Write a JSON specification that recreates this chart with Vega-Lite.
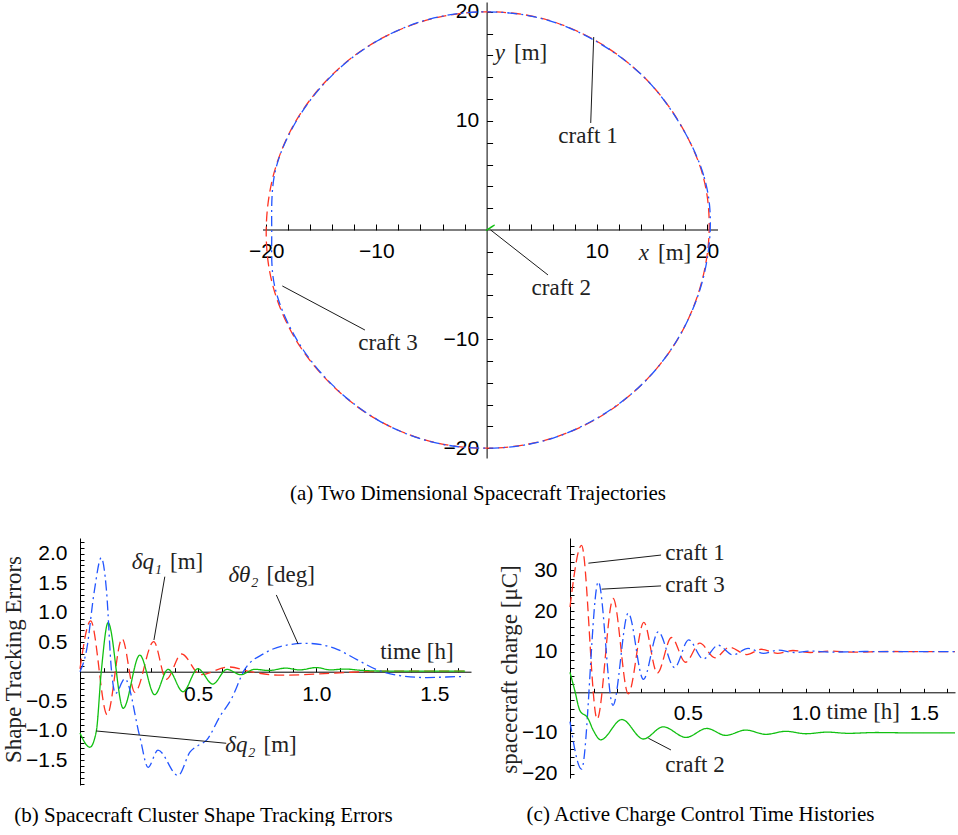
{
  "$schema": "https://vega.github.io/schema/vega-lite/v6.json",
  "background": "white",
  "padding": {"left": 1, "top": 0, "right": 0, "bottom": 0},
  "bounds": "flush",
  "spacing": 80,
  "config": {
    "view": {"stroke": null},
    "axis": {"grid": false, "domainColor": "#000", "domainWidth": 1, "tickColor": "#000", "tickWidth": 1, "labelColor": "#000", "labelFont": "Liberation Sans", "labelFontSize": 21, "labelFlush": false, "labelOverlap": false, "titleFont": "Liberation Serif", "titleFontSize": 23, "titleFontWeight": "normal", "titleColor": "#222"},
    "title": {"font": "Liberation Serif", "fontSize": 21, "fontWeight": "normal", "color": "#000"}
  },
  "vconcat": [
    {
      "width": 638,
      "height": 456,
      "title": {"text": "(a) Two Dimensional Spacecraft Trajectories", "orient": "bottom", "frame": "group", "anchor": "middle", "dx": 79, "offset": 25},
      "encoding": {
        "x": {"field": "x", "type": "quantitative", "scale": {"domain": [-36.9, 21], "nice": false, "zero": false},
          "axis": {"orient": "bottom", "offset": -228, "domain": false, "values": [-20,-18,-16,-14,-12,-10,-8,-6,-4,-2,2,4,6,8,10,12,14,16,18,20], "labelExpr": "datum.value % 10 === 0 ? replace(format(datum.value, 'd'), '-', '−') : ''", "labelFont": "Liberation Sans", "labelFontSize": 21, "tickSize": -6, "labelPadding": 16, "title": null}},
        "y": {"field": "y", "type": "quantitative", "scale": {"domain": [-20.9, 20.9], "nice": false, "zero": false},
          "axis": {"orient": "left", "offset": -406.6, "values": [-20,-18,-16,-14,-12,-10,-8,-6,-4,-2,2,4,6,8,10,12,14,16,18,20], "labelExpr": "datum.value % 10 === 0 ? replace(format(datum.value, 'd'), '-', '−') : ''", "labelFont": "Liberation Sans", "labelFontSize": 21, "tickSize": -6, "labelPadding": 14, "title": null}}
      },
      "layer": [
        {
          "data": {"values": [{"x": -20.29, "x2": 21, "y": 0}]},
          "mark": {"type": "rule", "color": "#000", "strokeWidth": 1},
          "encoding": {"x2": {"field": "x2"}}
        },
        {
          "data": {"values": [
            {"s": "c1", "i": 0, "x": 20.2, "y": 0},
            {"s": "c1", "i": 1, "x": 19.6, "y": 5.1},
            {"s": "c1", "i": 2, "x": 17.4, "y": 10.0},
            {"s": "c1", "i": 3, "x": 14.2, "y": 14.1},
            {"s": "c1", "i": 4, "x": 10.0, "y": 17.3},
            {"s": "c1", "i": 5, "x": 5.2, "y": 19.35},
            {"s": "c1", "i": 6, "x": 0, "y": 20.0},
            {"s": "c1", "i": 7, "x": -5.2, "y": 19.3},
            {"s": "c1", "i": 8, "x": -10.0, "y": 17.3},
            {"s": "c1", "i": 9, "x": -14.1, "y": 14.15},
            {"s": "c1", "i": 10, "x": -17.3, "y": 10.0},
            {"s": "c1", "i": 11, "x": -19.3, "y": 5.2},
            {"s": "c1", "i": 12, "x": -20.0, "y": 0},
            {"s": "c1", "i": 13, "x": -19.4, "y": -5.1},
            {"s": "c1", "i": 14, "x": -17.35, "y": -10.0},
            {"s": "c1", "i": 15, "x": -14.1, "y": -14.15},
            {"s": "c1", "i": 16, "x": -10.0, "y": -17.35},
            {"s": "c1", "i": 17, "x": -5.2, "y": -19.35},
            {"s": "c1", "i": 18, "x": 0, "y": -20.0},
            {"s": "c1", "i": 19, "x": 5.2, "y": -19.3},
            {"s": "c1", "i": 20, "x": 10.0, "y": -17.3},
            {"s": "c1", "i": 21, "x": 14.15, "y": -14.1},
            {"s": "c1", "i": 22, "x": 17.35, "y": -10.0},
            {"s": "c1", "i": 23, "x": 19.4, "y": -5.2},
            {"s": "c3", "i": 0, "x": 20.3, "y": 0.3},
            {"s": "c3", "i": 1, "x": 19.7, "y": 5.0},
            {"s": "c3", "i": 2, "x": 17.5, "y": 9.8},
            {"s": "c3", "i": 3, "x": 14.3, "y": 14.0},
            {"s": "c3", "i": 4, "x": 10.1, "y": 17.2},
            {"s": "c3", "i": 5, "x": 5.3, "y": 19.3},
            {"s": "c3", "i": 6, "x": 0.1, "y": 20.0},
            {"s": "c3", "i": 7, "x": -5.1, "y": 19.35},
            {"s": "c3", "i": 8, "x": -9.9, "y": 17.35},
            {"s": "c3", "i": 9, "x": -14.0, "y": 14.2},
            {"s": "c3", "i": 10, "x": -17.2, "y": 10.1},
            {"s": "c3", "i": 11, "x": -19.2, "y": 5.3},
            {"s": "c3", "i": 12, "x": -19.5, "y": -0.3},
            {"s": "c3", "i": 13, "x": -19.2, "y": -5.3},
            {"s": "c3", "i": 14, "x": -17.2, "y": -10.1},
            {"s": "c3", "i": 15, "x": -14.0, "y": -14.2},
            {"s": "c3", "i": 16, "x": -9.9, "y": -17.4},
            {"s": "c3", "i": 17, "x": -5.1, "y": -19.4},
            {"s": "c3", "i": 18, "x": 0.1, "y": -20.0},
            {"s": "c3", "i": 19, "x": 5.3, "y": -19.3},
            {"s": "c3", "i": 20, "x": 10.1, "y": -17.2},
            {"s": "c3", "i": 21, "x": 14.25, "y": -14.0},
            {"s": "c3", "i": 22, "x": 17.4, "y": -9.9},
            {"s": "c3", "i": 23, "x": 19.5, "y": -5.0},
            {"s": "c2", "i": 0, "x": 0, "y": 0},
            {"s": "c2", "i": 1, "x": 0.7, "y": 0.45},
            {"s": "c2", "i": 2, "x": 0.2, "y": 0.1}
          ]},
          "mark": {"type": "line", "interpolate": "cardinal-closed", "strokeWidth": 1.3},
          "encoding": {
            "color": {"field": "s", "type": "nominal", "scale": {"domain": ["c1", "c2", "c3"], "range": ["#ff3322", "#11c011", "#2255ff"]}, "legend": null},
            "strokeDash": {"field": "s", "type": "nominal", "scale": {"domain": ["c1", "c2", "c3"], "range": [[10, 5], [1, 0], [10, 4, 2, 4]]}, "legend": null},
            "order": {"field": "i", "type": "quantitative"}
          }
        },
        {
          "data": {"values": [
            {"x": 9.45, "y": 9.81, "x2": 9.72, "y2": 17.69},
            {"x": 0.37, "y": 0, "x2": 5.57, "y2": -4.12},
            {"x": -18.54, "y": -5.13, "x2": -11.04, "y2": -9.17}
          ]},
          "mark": {"type": "rule", "color": "#000", "strokeWidth": 0.9},
          "encoding": {"x2": {"field": "x2"}, "y2": {"field": "y2"}}
        },
        {
          "data": {"values": [
            {"x": 9.2, "y": 8.62, "t": "craft 1"},
            {"x": 6.78, "y": -5.34, "t": "craft 2"},
            {"x": -8.95, "y": -10.39, "t": "craft 3"}
          ]},
          "mark": {"type": "text", "align": "center", "baseline": "middle", "font": "Liberation Serif", "fontSize": 23, "color": "#222"},
          "encoding": {"text": {"field": "t"}}
        },
        {
          "data": {"values": [
            {"x": 15.1, "y": -2.11, "t": "x"},
            {"x": 2.03, "y": 16.22, "t": "y"}
          ]},
          "mark": {"type": "text", "align": "right", "baseline": "middle", "font": "Liberation Serif", "fontSize": 23, "color": "#222", "fontStyle": "italic", "dx": -4},
          "encoding": {"text": {"field": "t"}}
        },
        {
          "data": {"values": [
            {"x": 15.1, "y": -2.11, "t": "[m]"},
            {"x": 2.03, "y": 16.22, "t": "[m]"}
          ]},
          "mark": {"type": "text", "align": "left", "baseline": "middle", "font": "Liberation Serif", "fontSize": 23, "color": "#222", "dx": 5},
          "encoding": {"text": {"field": "t"}}
        }
      ]
    },
    {
      "hconcat": [
        {
          "width": 391,
          "height": 247,
          "title": {"text": "(b) Spacecraft Cluster Shape Tracking Errors", "orient": "bottom", "frame": "group", "anchor": "middle", "dx": -72, "offset": 11},
          "encoding": {
            "x": {"field": "x", "type": "quantitative", "scale": {"domain": [0, 1.655], "nice": false, "zero": false},
              "axis": {"orient": "bottom", "offset": -113.3, "values": [0.1,0.2,0.3,0.4,0.5,0.6,0.7,0.8,0.9,1.0,1.1,1.2,1.3,1.4,1.5,1.6], "labelExpr": "abs(datum.value*2 - round(datum.value*2)) < 0.001 ? format(datum.value, '.1f') : ''", "labelFont": "Liberation Sans", "labelFontSize": 21, "tickSize": -4, "labelPadding": 16, "title": null}},
            "y": {"field": "y", "type": "quantitative", "scale": {"domain": [-1.92, 2.265], "nice": false, "zero": false},
              "axis": {"orient": "left", "values": [-1.9,-1.8,-1.7,-1.6,-1.5,-1.4,-1.3,-1.2,-1.1,-1.0,-0.9,-0.8,-0.7,-0.6,-0.5,-0.4,-0.3,-0.2,-0.1,0.1,0.2,0.3,0.4,0.5,0.6,0.7,0.8,0.9,1.0,1.1,1.2,1.3,1.4,1.5,1.6,1.7,1.8,1.9,2.0,2.1,2.2], "labelExpr": "abs(datum.value*2 - round(datum.value*2)) < 0.001 ? replace(format(datum.value, '.1f'), '-', '−') : ''", "labelFont": "Liberation Sans", "labelFontSize": 21, "tickSize": -4, "labelPadding": 17, "title": "Shape Tracking Errors", "titleX": -55, "titleY": 121}}
          },
          "layer": [
            {
              "data": {"values": [
                {"s": "c1", "x": 0, "y": 0.05}, {"s": "c1", "x": 0.045, "y": 0.86}, {"s": "c1", "x": 0.115, "y": -0.73}, {"s": "c1", "x": 0.178, "y": 0.56}, {"s": "c1", "x": 0.232, "y": -0.35}, {"s": "c1", "x": 0.312, "y": 0.51}, {"s": "c1", "x": 0.365, "y": -0.13}, {"s": "c1", "x": 0.43, "y": 0.3}, {"s": "c1", "x": 0.51, "y": -0.05}, {"s": "c1", "x": 0.63, "y": 0.08}, {"s": "c1", "x": 0.72, "y": 0.0}, {"s": "c1", "x": 0.85, "y": -0.06}, {"s": "c1", "x": 1.0, "y": -0.04}, {"s": "c1", "x": 1.15, "y": -0.01}, {"s": "c1", "x": 1.3, "y": 0.01}, {"s": "c1", "x": 1.63, "y": 0.01},
                {"s": "c2", "x": 0, "y": -1.04}, {"s": "c2", "x": 0.042, "y": -1.28}, {"s": "c2", "x": 0.069, "y": -1.01}, {"s": "c2", "x": 0.09, "y": 0.0}, {"s": "c2", "x": 0.119, "y": 0.83}, {"s": "c2", "x": 0.183, "y": -0.62}, {"s": "c2", "x": 0.253, "y": 0.28}, {"s": "c2", "x": 0.316, "y": -0.39}, {"s": "c2", "x": 0.373, "y": 0.04}, {"s": "c2", "x": 0.436, "y": -0.34}, {"s": "c2", "x": 0.499, "y": 0.05}, {"s": "c2", "x": 0.562, "y": -0.21}, {"s": "c2", "x": 0.622, "y": 0.04}, {"s": "c2", "x": 0.68, "y": -0.05}, {"s": "c2", "x": 0.74, "y": 0.04}, {"s": "c2", "x": 0.8, "y": 0.02}, {"s": "c2", "x": 0.87, "y": 0.06}, {"s": "c2", "x": 0.93, "y": 0.03}, {"s": "c2", "x": 1.0, "y": 0.07}, {"s": "c2", "x": 1.06, "y": 0.03}, {"s": "c2", "x": 1.12, "y": 0.045}, {"s": "c2", "x": 1.2, "y": 0.02}, {"s": "c2", "x": 1.3, "y": 0.01}, {"s": "c2", "x": 1.63, "y": 0.01},
                {"s": "c3", "x": 0, "y": 0}, {"s": "c3", "x": 0.028, "y": 0.37}, {"s": "c3", "x": 0.06, "y": 1.35}, {"s": "c3", "x": 0.09, "y": 1.93}, {"s": "c3", "x": 0.112, "y": 1.38}, {"s": "c3", "x": 0.133, "y": 0.03}, {"s": "c3", "x": 0.15, "y": -0.37}, {"s": "c3", "x": 0.19, "y": -0.12}, {"s": "c3", "x": 0.253, "y": -1.1}, {"s": "c3", "x": 0.288, "y": -1.62}, {"s": "c3", "x": 0.33, "y": -1.33}, {"s": "c3", "x": 0.415, "y": -1.76}, {"s": "c3", "x": 0.466, "y": -1.36}, {"s": "c3", "x": 0.5, "y": -1.25}, {"s": "c3", "x": 0.536, "y": -1.16}, {"s": "c3", "x": 0.592, "y": -0.76}, {"s": "c3", "x": 0.641, "y": -0.46}, {"s": "c3", "x": 0.696, "y": 0.03}, {"s": "c3", "x": 0.78, "y": 0.31}, {"s": "c3", "x": 0.89, "y": 0.46}, {"s": "c3", "x": 0.96, "y": 0.48}, {"s": "c3", "x": 1.076, "y": 0.4}, {"s": "c3", "x": 1.174, "y": 0.2}, {"s": "c3", "x": 1.259, "y": 0.03}, {"s": "c3", "x": 1.343, "y": -0.06}, {"s": "c3", "x": 1.47, "y": -0.1}, {"s": "c3", "x": 1.55, "y": -0.09}, {"s": "c3", "x": 1.63, "y": -0.08}
              ]},
              "mark": {"type": "line", "interpolate": "monotone", "strokeWidth": 1.3},
              "encoding": {
                "color": {"field": "s", "type": "nominal", "scale": {"domain": ["c1", "c2", "c3"], "range": ["#ff3322", "#11c011", "#2255ff"]}, "legend": null},
                "strokeDash": {"field": "s", "type": "nominal", "scale": {"domain": ["c1", "c2", "c3"], "range": [[10, 5], [1, 0], [10, 4, 2, 4]]}, "legend": null}
              }
            },
            {
              "data": {"values": [
                {"x": 0.359, "y": 1.61, "x2": 0.313, "y2": 0.537},
                {"x": 0.831, "y": 1.3, "x2": 0.923, "y2": 0.47},
                {"x": 0.069, "y": -1.005, "x2": 0.619, "y2": -1.213}
              ]},
              "mark": {"type": "rule", "color": "#000", "strokeWidth": 0.9},
              "encoding": {"x2": {"field": "x2"}, "y2": {"field": "y2"}}
            },
            {
              "data": {"values": [
                {"x": 1.426, "y": 0.339, "t": "time [h]"}
              ]},
              "mark": {"type": "text", "align": "center", "baseline": "middle", "font": "Liberation Serif", "fontSize": 23, "color": "#222"},
              "encoding": {"text": {"field": "t"}}
            },
            {
              "data": {"values": [
                {"x": 0.364, "y": 1.864, "t": "δq₁"},
                {"x": 0.772, "y": 1.64, "t": "δθ₂"},
                {"x": 0.76, "y": -1.24, "t": "δq₂"}
              ]},
              "mark": {"type": "text", "align": "right", "baseline": "middle", "font": "Liberation Serif", "fontSize": 23, "color": "#222", "fontStyle": "italic", "dx": -4},
              "encoding": {"text": {"field": "t"}}
            },
            {
              "data": {"values": [
                {"x": 0.364, "y": 1.864, "t": "[m]"},
                {"x": 0.772, "y": 1.64, "t": "[deg]"},
                {"x": 0.76, "y": -1.24, "t": "[m]"}
              ]},
              "mark": {"type": "text", "align": "left", "baseline": "middle", "font": "Liberation Serif", "fontSize": 23, "color": "#222", "dx": 4},
              "encoding": {"text": {"field": "t"}}
            }
          ]
        },
        {
          "width": 385,
          "height": 240,
          "title": {"text": "(c) Active Charge Control Time Histories", "orient": "bottom", "frame": "group", "anchor": "middle", "dx": -62, "offset": 20},
          "encoding": {
            "x": {"field": "x", "type": "quantitative", "scale": {"domain": [0, 1.632], "nice": false, "zero": false},
              "axis": {"orient": "bottom", "offset": -85.7, "values": [0.1,0.2,0.3,0.4,0.5,0.6,0.7,0.8,0.9,1.0,1.1,1.2,1.3,1.4,1.5,1.6], "labelExpr": "abs(datum.value*2 - round(datum.value*2)) < 0.001 ? format(datum.value, '.1f') : ''", "labelFont": "Liberation Sans", "labelFontSize": 21, "tickSize": -4, "labelPadding": 14, "title": null}},
            "y": {"field": "y", "type": "quantitative", "scale": {"domain": [-21.1, 38], "nice": false, "zero": false},
              "axis": {"orient": "left", "values": [-20,-18,-16,-14,-12,-10,-8,-6,-4,-2,2,4,6,8,10,12,14,16,18,20,22,24,26,28,30,32,34,36], "labelExpr": "datum.value % 10 === 0 ? replace(format(datum.value, 'd'), '-', '−') : ''", "labelFont": "Liberation Sans", "labelFontSize": 21, "tickSize": -4, "labelPadding": 17, "title": "spacecraft charge [μC]", "titleX": -48.4, "titleY": 131}}
          },
          "layer": [
            {
              "data": {"values": [
                {"s": "c1", "x": 0, "y": 21}, {"s": "c1", "x": 0.049, "y": 36.2}, {"s": "c1", "x": 0.115, "y": -6.6}, {"s": "c1", "x": 0.183, "y": 23.1}, {"s": "c1", "x": 0.247, "y": -0.4}, {"s": "c1", "x": 0.313, "y": 17.2}, {"s": "c1", "x": 0.37, "y": 4.7}, {"s": "c1", "x": 0.43, "y": 13.5}, {"s": "c1", "x": 0.49, "y": 7.4}, {"s": "c1", "x": 0.55, "y": 12.1}, {"s": "c1", "x": 0.615, "y": 8.5}, {"s": "c1", "x": 0.675, "y": 11.1}, {"s": "c1", "x": 0.75, "y": 9.3}, {"s": "c1", "x": 0.81, "y": 10.6}, {"s": "c1", "x": 0.88, "y": 9.6}, {"s": "c1", "x": 0.945, "y": 10.3}, {"s": "c1", "x": 1.02, "y": 9.8}, {"s": "c1", "x": 1.1, "y": 10.15}, {"s": "c1", "x": 1.2, "y": 9.9}, {"s": "c1", "x": 1.35, "y": 10.05}, {"s": "c1", "x": 1.5, "y": 10}, {"s": "c1", "x": 1.632, "y": 10},
                {"s": "c3", "x": 0, "y": -7.2}, {"s": "c3", "x": 0.049, "y": -18.9}, {"s": "c3", "x": 0.12, "y": 27.2}, {"s": "c3", "x": 0.182, "y": -3.2}, {"s": "c3", "x": 0.247, "y": 19.5}, {"s": "c3", "x": 0.311, "y": 3.2}, {"s": "c3", "x": 0.374, "y": 14.9}, {"s": "c3", "x": 0.443, "y": 6.1}, {"s": "c3", "x": 0.503, "y": 12.9}, {"s": "c3", "x": 0.565, "y": 8.2}, {"s": "c3", "x": 0.628, "y": 11.6}, {"s": "c3", "x": 0.69, "y": 9.2}, {"s": "c3", "x": 0.755, "y": 10.8}, {"s": "c3", "x": 0.82, "y": 9.6}, {"s": "c3", "x": 0.885, "y": 10.4}, {"s": "c3", "x": 0.95, "y": 9.8}, {"s": "c3", "x": 1.02, "y": 10.15}, {"s": "c3", "x": 1.1, "y": 9.9}, {"s": "c3", "x": 1.25, "y": 10.05}, {"s": "c3", "x": 1.4, "y": 10}, {"s": "c3", "x": 1.632, "y": 10},
                {"s": "c2", "x": 0, "y": 4.9}, {"s": "c2", "x": 0.02, "y": 0.5}, {"s": "c2", "x": 0.042, "y": -4.5}, {"s": "c2", "x": 0.075, "y": -6.3}, {"s": "c2", "x": 0.1, "y": -9.5}, {"s": "c2", "x": 0.13, "y": -11.7}, {"s": "c2", "x": 0.22, "y": -6.7}, {"s": "c2", "x": 0.311, "y": -11.5}, {"s": "c2", "x": 0.395, "y": -8.5}, {"s": "c2", "x": 0.492, "y": -11.1}, {"s": "c2", "x": 0.58, "y": -8.9}, {"s": "c2", "x": 0.66, "y": -10.6}, {"s": "c2", "x": 0.745, "y": -9.3}, {"s": "c2", "x": 0.83, "y": -10.35}, {"s": "c2", "x": 0.915, "y": -9.6}, {"s": "c2", "x": 1.0, "y": -10.2}, {"s": "c2", "x": 1.09, "y": -9.8}, {"s": "c2", "x": 1.18, "y": -10.1}, {"s": "c2", "x": 1.3, "y": -9.9}, {"s": "c2", "x": 1.45, "y": -10}, {"s": "c2", "x": 1.632, "y": -10}
              ]},
              "mark": {"type": "line", "interpolate": "monotone", "strokeWidth": 1.3},
              "encoding": {
                "color": {"field": "s", "type": "nominal", "scale": {"domain": ["c1", "c2", "c3"], "range": ["#ff3322", "#11c011", "#2255ff"]}, "legend": null},
                "strokeDash": {"field": "s", "type": "nominal", "scale": {"domain": ["c1", "c2", "c3"], "range": [[10, 5], [1, 0], [10, 4, 2, 4]]}, "legend": null}
              }
            },
            {
              "data": {"values": [
                {"x": 0.078, "y": 31.8, "x2": 0.386, "y2": 33.8},
                {"x": 0.134, "y": 25.4, "x2": 0.386, "y2": 26.2},
                {"x": 0.332, "y": -11.3, "x2": 0.428, "y2": -14.2}
              ]},
              "mark": {"type": "rule", "color": "#000", "strokeWidth": 0.9},
              "encoding": {"x2": {"field": "x2"}, "y2": {"field": "y2"}}
            },
            {
              "data": {"values": [
                {"x": 0.53, "y": 34.2, "t": "craft 1"},
                {"x": 0.53, "y": 26.4, "t": "craft 3"},
                {"x": 0.53, "y": -17.9, "t": "craft 2"},
                {"x": 1.243, "y": -4.78, "t": "time [h]"}
              ]},
              "mark": {"type": "text", "align": "center", "baseline": "middle", "font": "Liberation Serif", "fontSize": 23, "color": "#222"},
              "encoding": {"text": {"field": "t"}}
            }
          ]
        }
      ],
      "spacing": 99,
      "bounds": "flush"
    }
  ]
}
